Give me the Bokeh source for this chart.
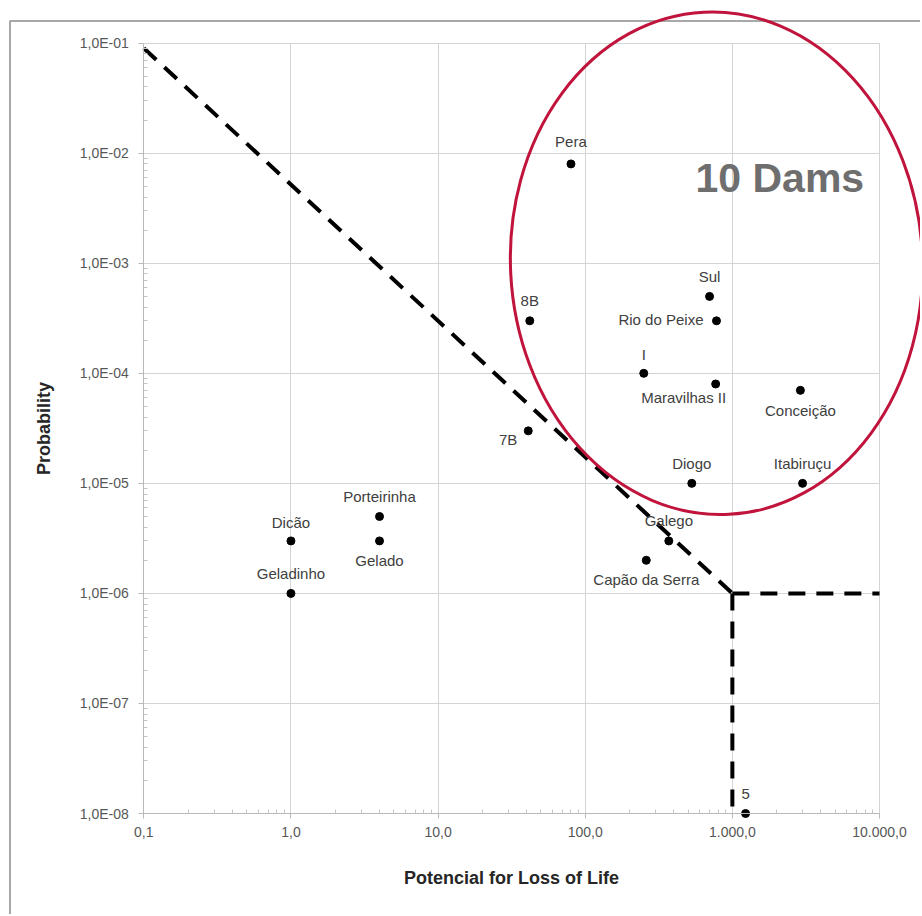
import math
from bokeh.plotting import figure
from bokeh.models import (ColumnDataSource, FixedTicker, Range1d, Label, Grid,
                          CustomJSTickFormatter)
from bokeh.core.properties import value, field
from bokeh.embed import file_html
from bokeh.resources import INLINE

# ---------------- data ----------------
dam_names = ["Pera", "8B", "7B", "Sul", "Rio do Peixe", "I", "Maravilhas II",
             "Conceição", "Diogo", "Itabiruçu", "Galego", "Capão da Serra",
             "Dicão", "Geladinho", "Porteirinha", "Gelado", "5"]
dam_pll = [80, 42, 41, 700, 780, 250, 770, 2900, 530, 3000, 370, 260,
           1.0, 1.0, 4.0, 4.0, 1230]
dam_prob = [8e-3, 3e-4, 3e-5, 5e-4, 3e-4, 1e-4, 8e-5, 7e-5, 1e-5, 1e-5,
            3e-6, 2e-6, 3e-6, 1e-6, 5e-6, 3e-6, 1e-8]

criterion_x = [0.1, 1000.0]
criterion_y = [0.09, 1e-6]
limit_h_x = [1000.0, 10000.0]
limit_h_y = [1e-6, 1e-6]
limit_v_x = [1000.0, 1000.0]
limit_v_y = [1e-6, 1e-8]

x_ticks = [0.1, 1.0, 10.0, 100.0, 1000.0, 10000.0]
x_tick_labels = ["0,1", "1,0", "10,0", "100,0", "1.000,0", "10.000,0"]
y_ticks = [1e-1, 1e-2, 1e-3, 1e-4, 1e-5, 1e-6, 1e-7, 1e-8]
y_tick_labels = ["1,0E-01", "1,0E-02", "1,0E-03", "1,0E-04",
                 "1,0E-05", "1,0E-06", "1,0E-07", "1,0E-08"]

x_title = "Potencial for Loss of Life"
y_title = "Probability"
group_text = "10 Dams"

# ---------------- layout (styles / positions) ----------------
label_dx = [0, 0, -11, 0, -13, 0, -32, 0, 0, 0, 0, 0, 0, 0, 0, 0, 0]
label_dy = [-22, -20, 9, -20, -1, -19, 14, 20, -20, -20, -20, 19, -18, -20, -20, 20, -20]
label_align = ["center", "center", "right", "center", "right", "center", "center",
               "center", "center", "center", "center", "center", "center",
               "center", "center", "center", "center"]

W, H = 920, 914
ORIGIN = 0                       # page offset of the canvas
X_LO_PX, X_HI_PX = 143.3, 879.0  # page px of x = 0.1 and x = 1e4
Y_HI_PX, Y_LO_PX = 42.7, 813.0   # page px of y = 1e-1 and y = 1e-8
XDEC = (X_HI_PX - X_LO_PX) / 5.0
YDEC = (Y_LO_PX - Y_HI_PX) / 7.0


def px_x(px):
    return 10 ** (-1 + (px - X_LO_PX) / XDEC)


def px_y(py):
    return 10 ** (-1 - (py - Y_HI_PX) / YDEC)


FONT = "Liberation Sans"

p = figure(width=W, height=H, x_axis_type="log", y_axis_type="log",
           x_range=Range1d(px_x(ORIGIN), px_x(ORIGIN + W)),
           y_range=Range1d(px_y(ORIGIN + H), px_y(ORIGIN)),
           output_backend="svg", toolbar_location=None,
           min_border=0, min_border_left=0, min_border_right=0,
           min_border_top=0, min_border_bottom=0,
           background_fill_color="white", border_fill_color="white",
           outline_line_color=None)

x_minor = [m * 10 ** k for k in range(-1, 4) for m in range(2, 10)]
y_minor = [m * 10 ** k for k in range(-8, -1) for m in range(2, 10)]

fmt_code = """
let best = 0, bd = Infinity;
for (let i = 0; i < tv.length; i++) {
  const d = Math.abs(Math.log10(tick) - Math.log10(tv[i]));
  if (d < bd) { bd = d; best = i; }
}
return labs[best];
"""

xa = p.xaxis[0]
ya = p.yaxis[0]
xa.fixed_location = 1e-8
ya.fixed_location = 0.1
xa.bounds = (0.1, 1e4)
ya.bounds = (1e-8, 1e-1)
xa.ticker = FixedTicker(ticks=x_ticks, minor_ticks=x_minor)
ya.ticker = FixedTicker(ticks=y_ticks, minor_ticks=y_minor)
xa.formatter = CustomJSTickFormatter(args=dict(tv=x_ticks, labs=x_tick_labels), code=fmt_code)
ya.formatter = CustomJSTickFormatter(args=dict(tv=y_ticks, labs=y_tick_labels), code=fmt_code)
xa.axis_label = x_title
ya.axis_label = y_title

for ax in (xa, ya):
    ax.axis_line_color = "#b8b8b8"
    ax.major_tick_line_color = "#b8b8b8"
    ax.minor_tick_line_color = "#c4c4c4"
    ax.major_tick_out = 5
    ax.major_tick_in = 0
    ax.minor_tick_out = 0
    ax.minor_tick_in = 4
    ax.major_label_text_font = FONT
    ax.major_label_text_font_size = "14px"
    ax.major_label_text_color = "#575757"
    ax.axis_label_text_font = FONT
    ax.axis_label_text_font_size = "18px"
    ax.axis_label_text_font_style = "bold"
    ax.axis_label_text_color = "#262626"
xa.major_label_standoff = 8
ya.major_label_standoff = 10
xa.axis_label_standoff = 28
ya.axis_label_standoff = 22

p.xgrid[0].ticker = FixedTicker(ticks=x_ticks)
p.ygrid[0].ticker = FixedTicker(ticks=y_ticks)
p.grid.grid_line_color = "#d4d4d4"
p.grid.grid_line_width = 1

if "cross_bounds" in Grid.properties():
    p.xgrid[0].bounds = (0.1, 1e4)
    p.xgrid[0].cross_bounds = (1e-8, 1e-1)
    p.ygrid[0].bounds = (1e-8, 1e-1)
    p.ygrid[0].cross_bounds = (0.1, 1e4)
else:
    p.xgrid[0].visible = False
    p.ygrid[0].visible = False
    p.segment(x0=x_ticks, y0=[1e-8] * len(x_ticks), x1=x_ticks, y1=[1e-1] * len(x_ticks),
              line_color="#d4d4d4", line_width=1, level="underlay")
    p.segment(x0=[0.1] * len(y_ticks), y0=y_ticks, x1=[1e4] * len(y_ticks), y1=y_ticks,
              line_color="#d4d4d4", line_width=1, level="underlay")

# chart border (left + top edges of the original chart frame)
p.line([px_x(9.5), px_x(9.5), px_x(ORIGIN + W + 30)],
       [px_y(ORIGIN + H + 30), px_y(20.5), px_y(20.5)],
       line_color="#a8a8a8", line_width=2)

# criterion lines
p.multi_line(xs=[criterion_x, limit_h_x, limit_v_x],
             ys=[criterion_y, limit_h_y, limit_v_y],
             line_color="black", line_width=4, line_dash="17 11")

# dams
src = ColumnDataSource(dict(x=dam_pll, y=dam_prob, name=dam_names,
                            dx=label_dx, dy=label_dy, align=label_align))
p.scatter(x="x", y="y", source=src, size=8, color="black")
p.text(x="x", y="y", text="name", source=src, x_offset=field("dx"), y_offset=field("dy"),
       text_align=field("align"), text_baseline="alphabetic",
       text_font=value(FONT), text_font_size="15px", text_color="#404040")

# highlight ellipse + caption
ell = p.ellipse(x=[780], y=[1e-3], width=412, height=503, angle=0.05,
                width_units="screen", height_units="screen",
                fill_color=None, line_color="#C0143C", line_width=3)
ell.level = "overlay"

p.add_layout(Label(x=px_x(695), y=px_y(177), text=group_text,
                   text_font=FONT, text_font_size="41px", text_font_style="bold",
                   text_color="#6e6e6e", text_baseline="alphabetic"))

open("out.html", "w").write(file_html(p, INLINE))
